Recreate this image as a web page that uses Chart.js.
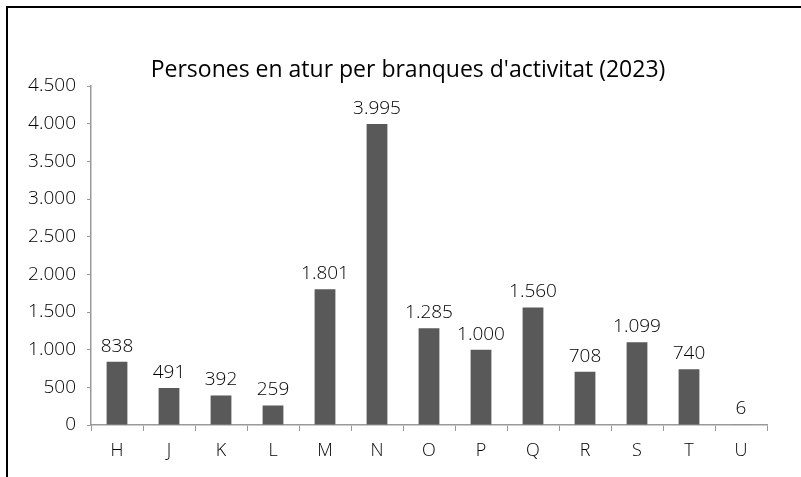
<!DOCTYPE html>
<html>
<head>
<meta charset="utf-8">
<script src="https://cdn.jsdelivr.net/npm/chart.js@4.4.0/dist/chart.umd.min.js"></script>
<style>
  html, body { margin: 0; padding: 0; background: #fff; }
  #frame {
    position: absolute; left: 6px; top: 6px; width: 795px; height: 471px;
    border-top: 2px solid #000; border-left: 2px solid #000; box-sizing: border-box;
  }
  #wrap { position: absolute; left: 0; top: 0; width: 801px; height: 477px; }
</style>
</head>
<body>
<div id="frame"></div>
<div id="wrap"><canvas id="chart"></canvas></div>
<script>
let categories = ['H', 'J', 'K', 'L', 'M', 'N', 'O', 'P', 'Q', 'R', 'S', 'T', 'U'];
let values = [838, 491, 392, 259, 1801, 3995, 1285, 1000, 1560, 708, 1099, 740, 6];
let chartTitle = "Persones en atur per branques d'activitat (2023)";

let fontFamily = "'Open Sans', 'Noto Sans', sans-serif";

// miles amb punt, com en català
function fmt(v) {
    return String(v).replace(/\B(?=(\d{3})+(?!\d))/g, '.');
}

// etiquetes de valor damunt de cada barra
const valueLabels = {
    id: 'valueLabels',
    afterLayout(chart) {
        // el títol de l'original està una mica desplaçat a la dreta
        if (chart.titleBlock) {
            chart.titleBlock.left = 49;
            chart.titleBlock.right = 767;
        }
    },
    afterDatasetsDraw(chart) {
        const ctx = chart.ctx;
        const meta = chart.getDatasetMeta(0);
        ctx.save();
        ctx.fillStyle = '#000';
        ctx.font = '300 19px ' + fontFamily;
        ctx.textAlign = 'center';
        ctx.textBaseline = 'bottom';
        meta.data.forEach(function (bar, i) {
            ctx.fillText(fmt(values[i]), bar.x, bar.y - 6);
        });
        ctx.restore();
    }
};

const ctx = document.getElementById('chart');

let chart = new Chart(ctx, {
    type: 'bar',
    data: {
        labels: categories,
        datasets: [{
            data: values,
            backgroundColor: '#595959',
            borderWidth: 0,
            categoryPercentage: 1.0,
            barPercentage: 0.4
        }]
    },
    options: {
        responsive: true,
        maintainAspectRatio: false,
        animation: false,
        layout: {
            padding: { left: 0, right: 34, top: 0, bottom: 0 }
        },
        scales: {
            y: {
                min: 0,
                max: 4500,
                afterFit: function (scale) { scale.width = 91; },
                ticks: {
                    stepSize: 500,
                    color: '#000',
                    font: { size: 19, family: fontFamily, weight: 300 },
                    padding: 11,
                    callback: function (v) { return fmt(v); }
                },
                grid: {
                    display: true,
                    drawOnChartArea: false,
                    drawTicks: true,
                    tickLength: 4,
                    color: '#999'
                },
                border: { display: true, color: '#999', width: 1.5 }
            },
            x: {
                afterFit: function (scale) { scale.height = 52; },
                ticks: {
                    color: '#000',
                    font: { size: 18, family: fontFamily, weight: 300 },
                    padding: 9
                },
                grid: {
                    display: true,
                    offset: true,
                    drawOnChartArea: false,
                    drawTicks: true,
                    tickLength: 6,
                    color: '#999'
                },
                border: { display: true, color: '#999', width: 1.5 }
            }
        },
        plugins: {
            legend: { display: false },
            tooltip: { enabled: false },
            title: {
                display: true,
                text: chartTitle,
                color: '#000',
                font: { size: 23, family: fontFamily, weight: 'normal', lineHeight: 1.2 },
                padding: { top: 57, bottom: 1.4 }
            }
        }
    },
    plugins: [valueLabels]
});
</script>
</body>
</html>
